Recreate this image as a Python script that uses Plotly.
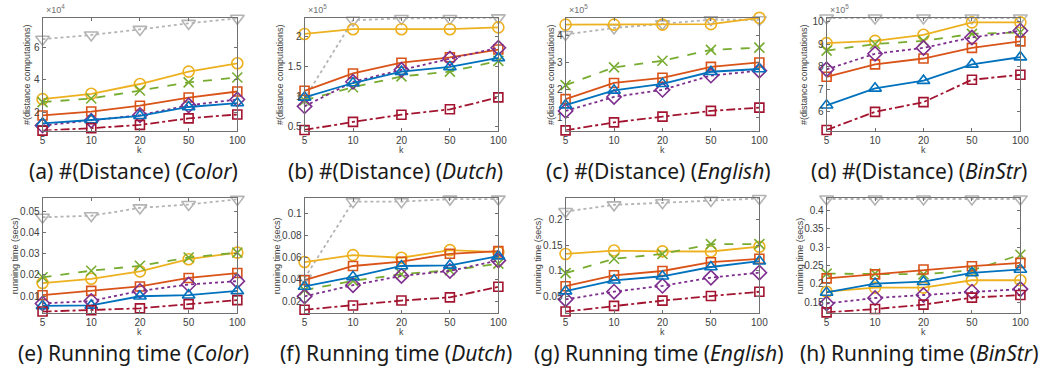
import plotly.graph_objects as go

W, H = 1063, 374

k_labels = ["5", "10", "20", "50", "100"]

# series keys: gray, yellow, green, orange, purple, blue, darkred
# ---- #(distance computations) (scaled units) ----
dist_color = {  # x10^4
    "gray":    [6.50, 6.76, 7.10, 7.47, 7.78],
    "yellow":  [2.82, 3.15, 3.75, 4.51, 5.02],
    "green":   [2.64, 2.86, 3.35, 3.85, 4.15],
    "orange":  [1.82, 2.06, 2.42, 2.92, 3.29],
    "purple":  [1.20, 1.50, 1.84, 2.44, 2.80],
    "blue":    [1.34, 1.54, 1.80, 2.34, 2.58],
    "darkred": [0.89, 1.04, 1.24, 1.64, 1.88],
}
dist_dutch = {  # x10^5
    "gray":    [0.97, 2.28, 2.31, 2.31, 2.32],
    "yellow":  [2.05, 2.13, 2.13, 2.13, 2.16],
    "green":   [0.94, 1.16, 1.34, 1.42, 1.60],
    "orange":  [1.10, 1.39, 1.57, 1.66, 1.79],
    "purple":  [0.84, 1.25, 1.45, 1.64, 1.82],
    "blue":    [0.99, 1.23, 1.42, 1.50, 1.65],
    "darkred": [0.445, 0.58, 0.70, 0.79, 0.99],
}
dist_english = {  # x10^5
    "gray":    [4.02, 4.26, 4.41, 4.56, 4.56],
    "yellow":  [4.38, 4.38, 4.38, 4.40, 4.63],
    "green":   [2.17, 2.82, 3.06, 3.46, 3.54],
    "orange":  [1.66, 2.25, 2.44, 2.84, 3.00],
    "purple":  [1.23, 1.74, 2.00, 2.52, 2.70],
    "blue":    [1.44, 1.98, 2.22, 2.66, 2.76],
    "darkred": [0.52, 0.81, 1.02, 1.23, 1.35],
}
dist_binstr = {  # x10^5
    "gray":    [10.15, 10.15, 10.15, 10.15, 10.15],
    "yellow":  [9.04, 9.14, 9.41, 9.96, 9.96],
    "green":   [8.71, 9.00, 9.14, 9.45, 9.52],
    "orange":  [7.55, 8.10, 8.36, 8.83, 9.12],
    "purple":  [7.88, 8.57, 8.83, 9.29, 9.59],
    "blue":    [6.29, 7.04, 7.38, 8.10, 8.42],
    "darkred": [5.20, 6.00, 6.43, 7.42, 7.64],
}
# ---- running time (secs) ----
time_color = {
    "gray":    [0.0471, 0.0478, 0.0515, 0.0531, 0.0555],
    "yellow":  [0.0162, 0.0182, 0.0217, 0.0274, 0.0305],
    "green":   [0.0189, 0.0220, 0.0243, 0.0282, 0.0305],
    "orange":  [0.0105, 0.0125, 0.0146, 0.0186, 0.0209],
    "purple":  [0.0066, 0.0078, 0.0125, 0.0155, 0.0171],
    "blue":    [0.0055, 0.0057, 0.0100, 0.0105, 0.0125],
    "darkred": [0.0028, 0.0035, 0.0043, 0.0063, 0.0082],
}
time_dutch = {
    "gray":    [0.0414, 0.1110, 0.1110, 0.1133, 0.1133],
    "yellow":  [0.0561, 0.0624, 0.0600, 0.0669, 0.0651],
    "green":   [0.0306, 0.0390, 0.0450, 0.0486, 0.0546],
    "orange":  [0.0396, 0.0525, 0.0564, 0.0636, 0.0660],
    "purple":  [0.0249, 0.0351, 0.0435, 0.0480, 0.0576],
    "blue":    [0.0339, 0.0426, 0.0525, 0.0531, 0.0615],
    "darkred": [0.0127, 0.0166, 0.0211, 0.0240, 0.0336],
}
time_english = {
    "gray":    [0.215, 0.228, 0.232, 0.2366, 0.2404],
    "yellow":  [0.133, 0.1396, 0.138, 0.1377, 0.147],
    "green":   [0.096, 0.1236, 0.133, 0.152, 0.152],
    "orange":  [0.0706, 0.0917, 0.100, 0.117, 0.1236],
    "purple":  [0.045, 0.060, 0.0713, 0.0872, 0.0968],
    "blue":    [0.061, 0.082, 0.0898, 0.1077, 0.119],
    "darkred": [0.0215, 0.0324, 0.0426, 0.0515, 0.0598],
}
time_binstr = {
    "gray":    [0.430, 0.430, 0.430, 0.430, 0.430],
    "yellow":  [0.179, 0.190, 0.190, 0.210, 0.210],
    "green":   [0.228, 0.228, 0.226, 0.237, 0.279],
    "orange":  [0.215, 0.226, 0.239, 0.248, 0.257],
    "purple":  [0.147, 0.162, 0.170, 0.179, 0.186],
    "blue":    [0.177, 0.201, 0.206, 0.230, 0.239],
    "darkred": [0.123, 0.132, 0.144, 0.163, 0.170],
}

captions = [
    "(a) #(Distance) (<i>Color</i>)", "(b) #(Distance) (<i>Dutch</i>)",
    "(c) #(Distance) (<i>English</i>)", "(d) #(Distance) (<i>BinStr</i>)",
    "(e) Running time (<i>Color</i>)", "(f) Running time (<i>Dutch</i>)",
    "(g) Running time (<i>English</i>)", "(h) Running time (<i>BinStr</i>)",
]
exponents = ["4", "5", "5", "5", None, None, None, None]
y_ranges = [[0.89, 7.81], [0.434, 2.32], [0.51, 4.63], [5.17, 10.16],
            [0.0023, 0.0562], [0.0101, 0.1144], [0.0194, 0.2415], [0.1223, 0.433]]
y_ticks = [[2, 4, 6], [0.5, 1, 1.5, 2], [1, 2, 3, 4], [6, 7, 8, 9, 10],
           [0.01, 0.02, 0.03, 0.04, 0.05], [0.02, 0.04, 0.06, 0.08, 0.1],
           [0.05, 0.1, 0.15, 0.2], [0.15, 0.2, 0.25, 0.3, 0.35, 0.4]]
y_ticktext = [["2", "4", "6"], ["0.5", "1", "1.5", "2"], ["1", "2", "3", "4"],
              ["6", "7", "8", "9", "10"],
              ["0.01", "0.02", "0.03", "0.04", "0.05"],
              ["0.02", "0.04", "0.06", "0.08", "0.1"],
              ["0.05", "0.1", "0.15", "0.2"],
              ["0.15", "0.2", "0.25", "0.3", "0.35", "0.4"]]
panels = [dist_color, dist_dutch, dist_english, dist_binstr,
          time_color, time_dutch, time_english, time_binstr]

styles = {
    "gray":    dict(color="#b4b4b4", dash="dot", symbol="triangle-down-open", size=12),
    "yellow":  dict(color="#EDB120", dash="solid", symbol="circle-open", size=11),
    "green":   dict(color="#77AC30", dash="dash", symbol="x-thin-open", size=10),
    "orange":  dict(color="#D95319", dash="solid", symbol="square-open", size=9),
    "purple":  dict(color="#7E2F8E", dash="dot", symbol="diamond-open", size=11),
    "blue":    dict(color="#0072BD", dash="solid", symbol="triangle-up-open", size=11),
    "darkred": dict(color="#A2142F", dash="dashdot", symbol="square-open", size=9),
}
order = ["gray", "yellow", "green", "orange", "purple", "blue", "darkred"]

# plot-area pixel boxes
x_px = [(40, 237), (305, 501), (569, 765), (833, 1029)]
y_px = [(16, 130), (198, 314)]
cap_cx = [132, 397, 663, 926]
ylab_x = [[25, 280, 554, 810], [12, 277, 541, 806]]

fig = go.Figure()
layout = dict(width=W, height=H, margin=dict(l=0, r=0, t=0, b=0),
              paper_bgcolor="white", plot_bgcolor="white", showlegend=False,
              font=dict(family="Liberation Sans", color="#404040"))
annotations = []
axcol = "#707070"
for i in range(8):
    row, col = divmod(i, 4)
    xa = "x" if i == 0 else f"x{i+1}"
    ya = "y" if i == 0 else f"y{i+1}"
    xd = [x_px[col][0] / W, x_px[col][1] / W]
    yd = [1 - y_px[row][1] / H, 1 - y_px[row][0] / H]
    data = panels[i]
    for name in order:
        st = styles[name]
        fig.add_trace(go.Scatter(
            x=list(range(len(k_labels))), y=data[name], xaxis=xa, yaxis=ya,
            mode="lines+markers", cliponaxis=False,
            line=dict(color=st["color"], dash=st["dash"], width=1.8),
            marker=dict(symbol=st["symbol"], size=st["size"], color=st["color"],
                        line=dict(color=st["color"], width=1.6)),
        ))
    axkey_x = "xaxis" if i == 0 else f"xaxis{i+1}"
    axkey_y = "yaxis" if i == 0 else f"yaxis{i+1}"
    layout[axkey_x] = dict(domain=xd, anchor=ya, range=[0, 4],
                           tickvals=list(range(len(k_labels))), ticktext=k_labels,
                           ticks="inside", ticklen=3, tickcolor=axcol,
                           showline=True, linecolor=axcol, linewidth=1, mirror="allticks",
                           showgrid=False, zeroline=False,
                           tickfont=dict(size=10, color="#404040", family="Liberation Sans"))
    layout[axkey_y] = dict(domain=yd, anchor=xa, range=y_ranges[i],
                           tickvals=y_ticks[i], ticktext=y_ticktext[i],
                           ticks="inside", ticklen=3, tickcolor=axcol,
                           showline=True, linecolor=axcol, linewidth=1, mirror="allticks",
                           showgrid=False, zeroline=False,
                           tickfont=dict(size=10, color="#404040", family="Liberation Sans"))
    cx = (x_px[col][0] + x_px[col][1]) / 2 / W
    # caption
    cap_y = 171 if row == 0 else 355
    annotations.append(dict(text=captions[i], x=cap_cx[col] / W, y=1 - cap_y / H,
                            xref="paper", yref="paper",
                            xanchor="center", yanchor="middle", showarrow=False,
                            font=dict(family="Noto Sans", size=21, color="#1a1a1a")))
    # x label
    kl_y = 150 if row == 0 else 334
    annotations.append(dict(text="k", x=cx, y=1 - kl_y / H, xref="paper", yref="paper",
                            xanchor="center", yanchor="middle", showarrow=False,
                            font=dict(family="Liberation Sans", size=9, color="#404040")))
    # y label
    ylab = "#(distance computations)" if row == 0 else "running time (secs)"
    annotations.append(dict(text=ylab, x=ylab_x[row][col] / W,
                            y=1 - (y_px[row][0] + y_px[row][1]) / 2 / H,
                            xref="paper", yref="paper", xanchor="center", yanchor="middle",
                            textangle=-90, showarrow=False,
                            font=dict(family="Liberation Sans", size=9, color="#404040")))
    if exponents[i]:
        annotations.append(dict(text="\u00d710<sup>" + exponents[i] + "</sup>",
                                x=(x_px[col][0] + 1) / W, y=1 - (y_px[row][0] - 1) / H,
                                xref="paper", yref="paper", xanchor="left", yanchor="bottom",
                                showarrow=False,
                                font=dict(family="Liberation Sans", size=9, color="#707070")))

layout["annotations"] = annotations
fig.update_layout(**layout)
fig.write_html("out.html", config={"displayModeBar": False},
               post_script="document.body.style.margin='0px';document.body.style.overflow='hidden';")
